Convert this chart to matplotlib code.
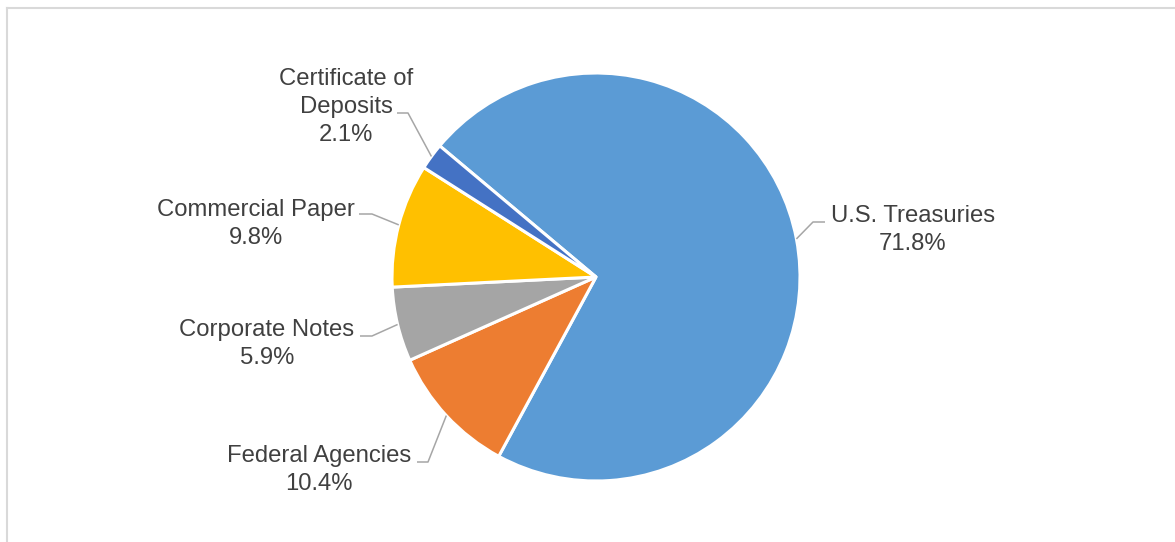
import matplotlib
matplotlib.use("Agg")
import matplotlib.pyplot as plt
import numpy as np

plt.rcParams['font.family'] = ['Liberation Sans', 'DejaVu Sans']

# data, clockwise from the Treasuries slice
labels = ["U.S. Treasuries", "Federal Agencies", "Corporate Notes",
          "Commercial Paper", "Certificate of\nDeposits"]
shares = [71.8, 10.4, 5.9, 9.8, 2.1]
colors = ["#5B9BD5", "#ED7D31", "#A5A5A5", "#FFC000", "#4472C4"]

W, H = 1175, 542
cx, cy, radius = 596, H - 277, 204
start = 140

# label layout in pixel coords (y down): text centre, elbow, line end
text_pos = [(913, 230), (319, 470), (267, 344), (256, 224), (346, 107)]
elbows = [(813, 222), (428, 462), (372, 336), (372, 214), (408, 113)]
ends = [(825, 222), (417, 462), (360, 336), (359, 214), (397, 113)]


def main():
    fig = plt.figure(figsize=(W / 100, H / 100), dpi=100)
    ax = fig.add_axes([0, 0, 1, 1])

    ax.pie(shares, colors=colors, startangle=start, counterclock=False,
           center=(cx, cy), radius=radius, frame=True,
           wedgeprops=dict(edgecolor="white", linewidth=2.2))
    ax.set_xlim(0, W)
    ax.set_ylim(0, H)
    ax.set_aspect("equal")
    ax.axis("off")

    total = sum(shares)
    ang = start
    for i, s in enumerate(shares):
        span = 360 * s / total
        mid = np.deg2rad(ang - span / 2)
        ang -= span
        px = cx + radius * np.cos(mid)
        py = cy + radius * np.sin(mid)
        ex, ey = elbows[i]
        fx, fy = ends[i]
        ax.plot([px, ex, fx], [py, H - ey, H - fy], color="#A6A6A6",
                lw=1.1, solid_capstyle="butt", zorder=1)
        tx, ty = text_pos[i]
        ax.text(tx, H - ty, "%s\n%.1f%%" % (labels[i], s), ha="center",
                va="center", fontsize=17.2, color="#404040", linespacing=1.36)

    # chart frame (left and top edges visible)
    fig.add_artist(plt.Line2D([7 / W, 7 / W], [0, 1 - 8 / H],
                              transform=fig.transFigure, color="#D9D9D9", lw=1.5))
    fig.add_artist(plt.Line2D([7 / W, 1], [1 - 8 / H, 1 - 8 / H],
                              transform=fig.transFigure, color="#D9D9D9", lw=1.5))

    fig.savefig("out.png", dpi=100, facecolor="white")


if __name__ == "__main__":
    main()
